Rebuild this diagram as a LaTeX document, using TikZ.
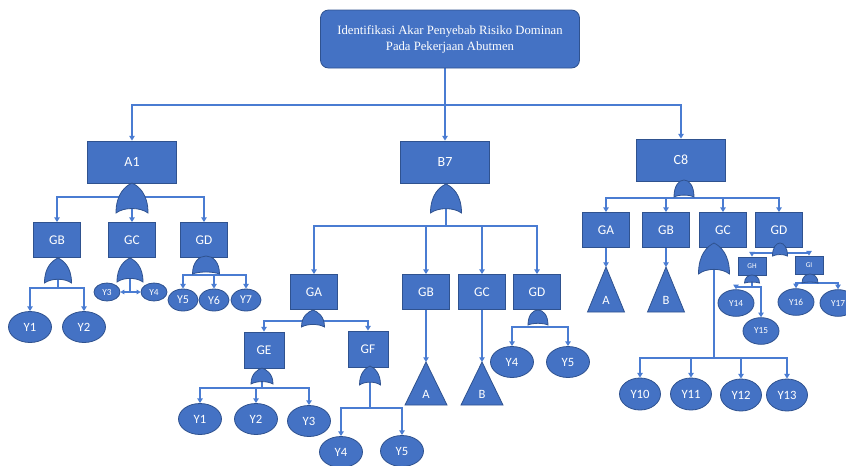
\documentclass[tikz,border=0pt]{standalone}
\usepackage{fontspec}
\setmainfont{Carlito}
\newfontfamily\titlefont{Liberation Serif}
\usetikzlibrary{arrows.meta,shapes.geometric,backgrounds}
\definecolor{fc}{HTML}{4472C4}
\definecolor{bc}{HTML}{2F528F}
\definecolor{lc}{HTML}{4A7CD2}
\tikzset{box/.style={draw=bc,fill=fc,text=white,line width=.6pt,inner sep=1pt,font=\fontsize{10}{11}\selectfont},
 big/.style={box,minimum width=66.75pt,minimum height=31.5pt,font=\fontsize{10.5}{12}\selectfont},
 gbox/.style={box,minimum width=35.25pt,minimum height=26.25pt},
 ebox/.style={box,minimum width=30pt,minimum height=27pt},
 tbox/.style={box,minimum width=21pt,minimum height=13.5pt,font=\fontsize{5.5}{6}\selectfont},
 ev/.style={box,ellipse,minimum width=32.25pt,minimum height=23.25pt,font=\fontsize{9.5}{10}\selectfont},
 evm/.style={ev,minimum width=22.5pt,minimum height=16.5pt,font=\fontsize{9}{9}\selectfont},
 evs/.style={ev,minimum width=19.5pt,minimum height=13.5pt,font=\fontsize{7}{7}\selectfont},
 evr/.style={ev,minimum width=30.75pt,minimum height=24pt},
 evt/.style={ev,minimum width=27pt,minimum height=20pt,font=\fontsize{7}{7}\selectfont},
 gate/.style={draw=bc,fill=fc,line width=.6pt},
 lab/.style={text=white,inner sep=0pt,font=\fontsize{9.5}{10}\selectfont},
 ln/.style={draw=lc,line width=1.1pt},
 arr/.style={ln,-{Triangle[length=3.5pt,width=4pt]}},
 arrs/.style={ln,{Triangle[length=3pt,width=3.5pt]}-{Triangle[length=3pt,width=3.5pt]}}}
% gates: name, cx, top, w, h
\newcommand{\orgate}[5]{%
 \filldraw[gate] (#2-#4/2,#3+#5) .. controls (#2-#4/2,#3+#5*0.35) and (#2-#4*0.2,#3+#5*0.1) .. (#2,#3)
  .. controls (#2+#4*0.2,#3+#5*0.1) and (#2+#4/2,#3+#5*0.35) .. (#2+#4/2,#3+#5)
  .. controls (#2+#4/4,#3+#5*0.8) and (#2-#4/4,#3+#5*0.8) .. cycle;
 \coordinate (#1) at (#2,#3+#5*0.84);}
\newcommand{\andgate}[5]{%
 \filldraw[gate] (#2-#4/2,#3+#5) .. controls (#2-#4/2,#3-#5/3) and (#2+#4/2,#3-#5/3) .. (#2+#4/2,#3+#5)
  .. controls (#2+#4/4,#3+#5*0.85) and (#2-#4/4,#3+#5*0.85) .. cycle;
 \coordinate (#1) at (#2,#3+#5*0.9);}
% triangles: name, cx, top, w, h, label
\newcommand{\trans}[6]{%
 \filldraw[gate] (#2,#3) -- (#2+#4/2,#3+#5) -- (#2-#4/2,#3+#5) -- cycle;
 \coordinate (#1) at (#2,#3);
 \node[lab] (#1l) at (#2,#3+#5*0.75) {#6};}

\begin{document}
\begin{tikzpicture}[x=0.75pt,y=-0.75pt]
\useasboundingbox (0,0) rectangle (846,465);
\node[box,rounded corners=6pt,minimum width=194.25pt,minimum height=43.5pt,align=center,
 font=\titlefont\fontsize{9.5}{12}\selectfont] (top) at (450,39)
 {Identifikasi Akar Penyebab Risiko Dominan\\Pada Pekerjaan Abutmen};
\node[big] (A1) at (132,162) {A1};
\node[big] (B7) at (445,162) {B7};
\node[big] (C8) at (681,160) {C8};
% A1
\node[gbox] (aGB) at (57,240) {GB};
\node[gbox] (aGC) at (132,240) {GC};
\node[gbox] (aGD) at (204,240) {GD};
\node[ev] (aY1) at (30,327) {Y1};
\node[ev] (aY2) at (84,327) {Y2};
\node[evs] (aY3) at (107,292) {Y3};
\node[evs] (aY4) at (154,292) {Y4};
\node[evm] (aY5) at (183,300) {Y5};
\node[evm] (aY6) at (214,300) {Y6};
\node[evm] (aY7) at (246,300) {Y7};
\orgate{gA1}{132}{183}{32}{30}
\orgate{gaGB}{58}{258}{27}{25}
\orgate{gaGC}{130}{258}{26}{24}
\andgate{gaGD}{206}{256}{27}{18}
% B7
\node[gbox] (bGA) at (314,292) {GA};
\node[gbox] (bGB) at (426,292) {GB};
\node[gbox] (bGC) at (482,292) {GC};
\node[gbox] (bGD) at (537,292) {GD};
\node[ebox] (bGE) at (264,350) {GE};
\node[ebox] (bGF) at (368,349) {GF};
\node[ev] (bY1) at (200,419) {Y1};
\node[ev] (bY2) at (256,419) {Y2};
\node[ev] (bY3) at (309,421) {Y3};
\node[ev] (bY4) at (341,452) {Y4};
\node[ev] (bY5) at (402,451) {Y5};
\node[ev] (bdY4) at (512,362) {Y4};
\node[ev] (bdY5) at (568,362) {Y5};
\trans{bTA}{426}{362}{42}{43}{A}
\trans{bTB}{482}{362}{42}{43}{B}
\orgate{gB7}{446}{184}{31}{29}
\orgate{gbGA}{313}{310}{23}{17}
\orgate{gbGE}{262}{368}{22}{16}
\orgate{gbGF}{370}{366}{21}{19}
\andgate{gbGD}{538}{310}{20}{15}
% C8
\node[gbox] (cGA) at (606,230) {GA};
\node[gbox] (cGB) at (666,230) {GB};
\node[gbox] (cGC) at (723,230) {GC};
\node[gbox] (cGD) at (779,230) {GD};
\node[tbox] (cGH) at (752,266) {GH};
\node[tbox] (cGI) at (809,265) {GI};
\node[evr] (cY10) at (640,394) {Y10};
\node[evr] (cY11) at (691,394) {Y11};
\node[evr] (cY12) at (741,395) {Y12};
\node[evr] (cY13) at (787,395) {Y13};
\node[evt] (cY14) at (736,303) {Y14};
\node[evt] (cY15) at (761,331) {Y15};
\node[evt] (cY16) at (796,302) {Y16};
\node[evt] (cY17) at (838,303) {Y17};
\trans{cTA}{606}{267}{37}{45}{A}
\trans{cTB}{666}{267}{37}{45}{B}
\andgate{gC8}{684}{180}{20}{17}
\orgate{gcGC}{714}{243}{31}{31}
\andgate{gcGD}{780}{243}{15}{13}
\andgate{gcGH}{752}{275}{15}{8}
\andgate{gcGI}{810}{274}{16}{9}
\begin{scope}[on background layer]
\coordinate (bus0) at (445,105);
\draw[ln] (top.south -| bus0) -- (bus0);
\draw[arr] (bus0) -| (A1);
\draw[arr] (bus0) -- (B7);
\draw[arr] (bus0) -| (C8);
% A1
\coordinate (bA1) at (132,197);
\draw[arr] (bA1) -| (aGB);
\draw[arr] (bA1) -| (aGD);
\draw[arr] (gA1) -- (aGC);
\coordinate (baGB) at (58,288);
\draw[ln] (gaGB) -- (baGB);
\draw[arr] (baGB) -| (aY1);
\draw[arr] (baGB) -| (aY2);
\coordinate (baGC) at (130,292);
\draw[ln] (gaGC) -- (baGC);
\draw[arrs] (aY3) -- (aY4);
\coordinate (baGD) at (206,275);
\draw[arr] (baGD) -| (aY5);
\draw[arr] (baGD) -| (aY6);
\draw[arr] (baGD) -| (aY7);
% B7
\coordinate (bB7) at (446,226);
\draw[ln] (gB7) -- (bB7);
\draw[arr] (bB7) -| (bGA);
\draw[arr] (bB7) -| (bGB);
\draw[arr] (bB7) -| (bGC);
\draw[arr] (bB7) -| (bGD);
\coordinate (bbGA) at (313,321);
\draw[arr] (bbGA) -| (bGE);
\draw[arr] (bbGA) -| (bGF);
\coordinate (bbGE) at (262,388);
\draw[ln] (gbGE) -- (bbGE);
\draw[arr] (bbGE) -| (bY1);
\draw[arr] (bbGE) -| (bY2);
\draw[arr] (bbGE) -| (bY3);
\coordinate (bbGF) at (370,408);
\draw[ln] (gbGF) -- (bbGF);
\draw[arr] (bbGF) -| (bY4);
\draw[arr] (bbGF) -| (bY5);
\draw[arr] (bGB) -- (bTA);
\draw[arr] (bGC) -- (bTB);
\coordinate (bbGD) at (538,327);
\draw[arr] (bbGD) -| (bdY4);
\draw[arr] (bbGD) -| (bdY5);
% C8
\coordinate (bC8) at (684,198);
\draw[arr] (bC8) -| (cGA);
\draw[arr] (bC8) -| (cGB);
\draw[arr] (bC8) -| (cGC);
\draw[arr] (bC8) -| (cGD);
\draw[arr] (cGA) -- (cTA);
\draw[arr] (cGB) -- (cTB);
\coordinate (bcGC) at (714,358);
\draw[ln] (gcGC) -- (bcGC);
\draw[arr] (bcGC) -| (cY10);
\draw[arr] (bcGC) -| (cY11);
\draw[arr] (bcGC) -| (cY12);
\draw[arr] (bcGC) -| (cY13);
\coordinate (bcGD) at (780,253);
\draw[arr] (bcGD) -| (cGH);
\draw[arr] (bcGD) -| (cGI);
\coordinate (bcGH) at (752,287);
\draw[ln] (gcGH) -- (bcGH);
\draw[arr] (bcGH) -| (cY14);
\draw[arr] (bcGH) -| (cY15);
\coordinate (bcGI) at (810,283);
\draw[arr] (bcGI) -| (cY16);
\draw[arr] (bcGI) -| (cY17);
\end{scope}
\end{tikzpicture}
\end{document}
